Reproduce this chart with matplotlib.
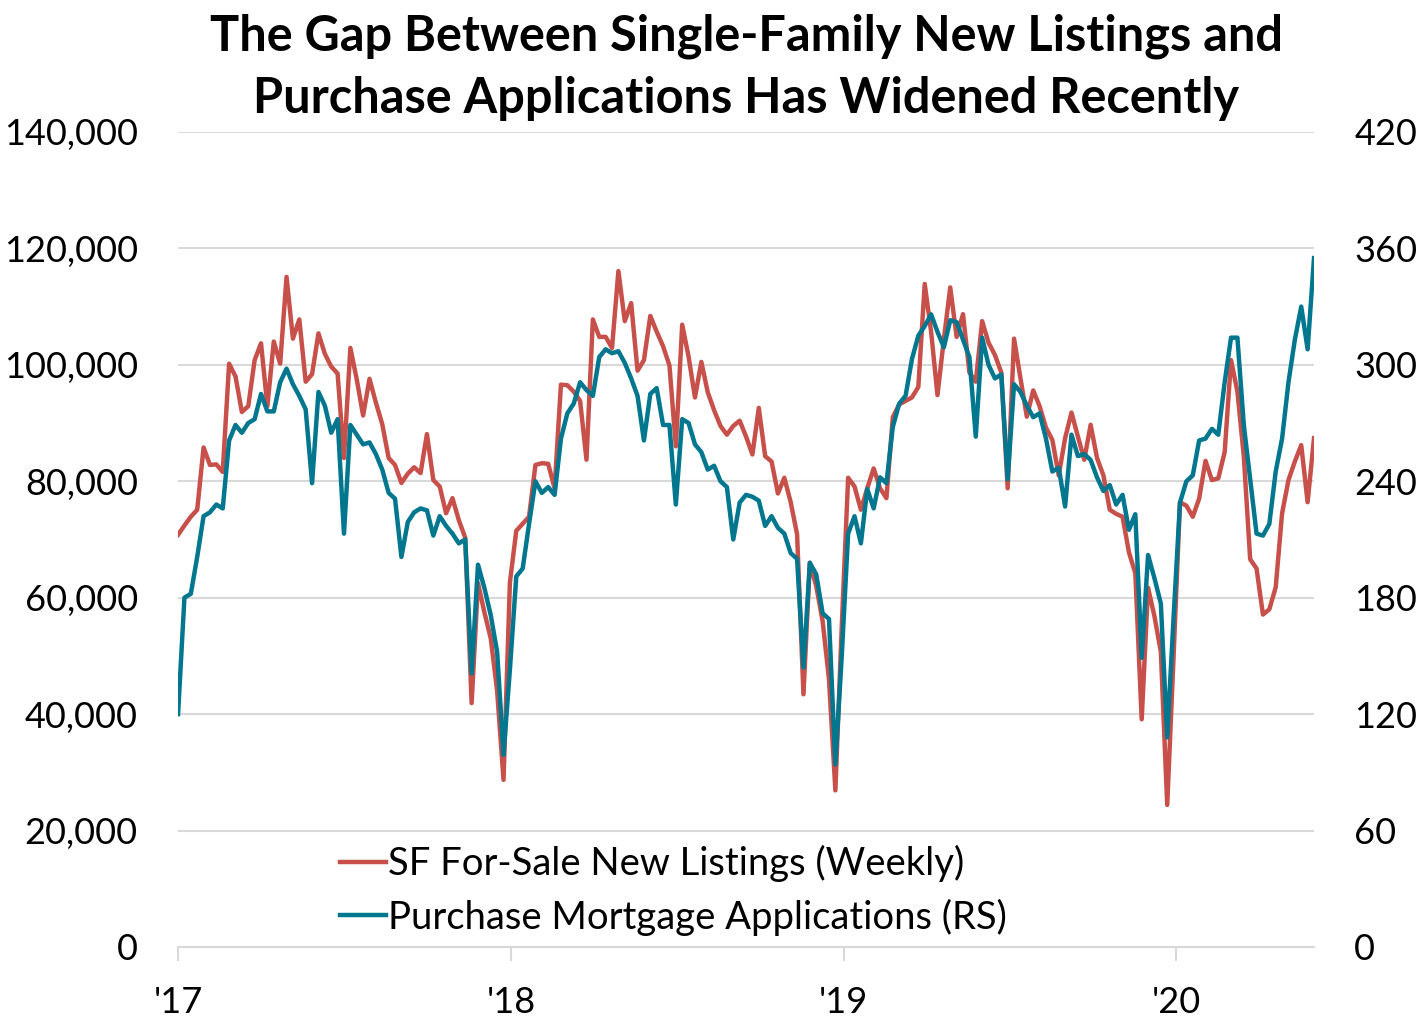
import matplotlib
matplotlib.use("Agg")
import matplotlib.pyplot as plt
import numpy as np
import pandas as pd

plt.rcParams["font.family"] = ["Lato", "DejaVu Sans"]

# weekly observations, first week starting 2017-01-01
start_date = "2017-01-01"
end_date = "2020-05-31"

# SF for-sale new listings (left axis), thousands
new_listings = [
    70.8, 72.4, 73.9, 75.1, 85.8, 82.8, 82.9, 81.6, 100.2, 98.0,
    91.9, 92.9, 100.8, 103.7, 92.9, 104.0, 100.2, 115.1, 104.5, 107.8,
    97.1, 98.4, 105.4, 101.9, 99.7, 98.5, 84.0, 102.9, 97.5, 91.3,
    97.6, 93.5, 89.8, 84.0, 82.8, 79.7, 81.3, 82.4, 81.4, 88.1,
    80.2, 79.1, 74.5, 77.1, 73.3, 70.3, 41.9, 62.5, 57.5, 53.0,
    44.0, 28.7, 62.6, 71.5, 72.7, 73.9, 82.8, 83.1, 83.0, 78.8,
    96.6, 96.5, 95.4, 93.8, 83.7, 107.8, 104.8, 104.8, 102.9, 116.1,
    107.5, 110.6, 99.0, 100.8, 108.4, 105.7, 103.2, 99.9, 86.0, 106.9,
    101.4, 94.4, 100.5, 95.3, 92.2, 89.5, 88.0, 89.5, 90.4, 87.7,
    84.6, 92.6, 84.3, 83.4, 77.9, 80.6, 76.4, 70.9, 43.4, 66.0,
    62.0, 56.0, 46.0, 26.9, 55.0, 80.6, 79.1, 75.1, 78.8, 82.2,
    78.8, 77.1, 91.0, 93.2, 93.8, 94.4, 96.2, 113.9, 105.7, 94.8,
    104.4, 113.3, 104.8, 108.7, 98.7, 97.1, 107.5, 103.8, 101.7, 98.7,
    78.8, 104.5, 97.7, 91.1, 95.6, 92.9, 89.2, 87.1, 81.0, 87.4,
    91.8, 87.7, 83.7, 89.7, 84.0, 81.0, 75.1, 74.4, 73.9, 67.8,
    64.2, 39.1, 61.7, 56.8, 50.7, 24.4, 50.0, 76.4, 75.8, 73.9,
    77.0, 83.5, 80.2, 80.5, 85.0, 100.8, 95.4, 84.3, 66.6, 65.0,
    57.1, 58.0, 61.8, 74.5, 80.2, 83.4, 86.2, 76.4, 87.4,
]

# purchase mortgage applications index (right axis)
purchase_apps = [
    120, 180, 182, 201, 222, 224, 228, 226, 261, 269,
    265, 270, 272, 285, 276, 276, 291, 298, 290, 284,
    277, 239, 286, 279, 265, 272, 213, 269, 264, 259,
    260, 254, 246, 234, 231, 201, 219, 224, 226, 225,
    212, 222, 217, 213, 208, 210, 141, 197, 185, 171,
    152, 99, 143, 191, 195, 218, 240, 234, 237, 233,
    262, 275, 280, 291, 287, 284, 304, 308, 306, 307,
    301, 293, 284, 261, 285, 288, 269, 269, 228, 272,
    270, 259, 255, 246, 248, 240, 237, 210, 229, 233,
    232, 230, 217, 222, 216, 213, 203, 200, 144, 198,
    192, 172, 169, 94, 150, 213, 222, 208, 236, 226,
    242, 239, 268, 280, 284, 303, 315, 320, 326, 317,
    309, 323, 322, 313, 304, 263, 314, 300, 293, 295,
    241, 290, 286, 279, 273, 275, 262, 245, 247, 227,
    264, 253, 254, 251, 242, 235, 238, 228, 233, 215,
    223, 149, 202, 190, 177, 108, 170, 229, 240, 243,
    261, 262, 267, 264, 291, 314, 314, 269, 241, 213,
    212, 218, 245, 262, 291, 313, 330, 308, 355,
]

year_ticks = ["2017-01-01", "2018-01-01", "2019-01-01", "2020-01-01"]
year_labels = ["'17", "'18", "'19", "'20"]

red = "#C8504A"
teal = "#00768F"
grid_color = "#D9D9D9"

weeks = pd.date_range(start_date, periods=len(new_listings), freq="7D")
listings = np.asarray(new_listings) * 1000

fig = plt.figure(figsize=(14.21, 10.31), dpi=100)
ax = fig.add_axes([0.1253, 0.0815, 0.7994, 0.7905])
ax2 = ax.twinx()

ax.plot(weeks, listings, color=red, lw=3.2, label="SF For-Sale New Listings (Weekly)")
ax2.plot(weeks, purchase_apps, color=teal, lw=3.2,
         label="Purchase Mortgage Applications (RS)")

ax.set_ylim(0, 140000)
ax2.set_ylim(0, 420)
ax.set_yticks(np.arange(0, 140001, 20000))
ax2.set_yticks(np.arange(0, 421, 60))
ax.yaxis.set_major_formatter(matplotlib.ticker.FuncFormatter(lambda v, p: f"{v:,.0f}"))

ax.set_xlim(pd.Timestamp(start_date), pd.Timestamp(end_date))
ax.set_xticks(pd.to_datetime(year_ticks))
ax.set_xticklabels(year_labels)

ax.grid(axis="y", color=grid_color, lw=1.5)
ax.set_axisbelow(True)

for a in (ax, ax2):
    for side in ("top", "left", "right", "bottom"):
        a.spines[side].set_visible(False)
    a.tick_params(axis="y", length=0, labelsize=26, pad=29)
ax.spines["bottom"].set_visible(True)
ax.spines["bottom"].set_color(grid_color)
ax.spines["bottom"].set_linewidth(1.5)
ax.tick_params(axis="x", length=10, width=1.5, color=grid_color,
               labelsize=26, pad=18)

handles = ax.get_lines() + ax2.get_lines()
ax2.legend(handles, [h.get_label() for h in handles],
           loc="lower left", bbox_to_anchor=(0.143, 0.014),
           frameon=False, fontsize=27.5, handlelength=1.2,
           handletextpad=0.05, labelspacing=0.42,
           borderpad=0, borderaxespad=0)

fig.text(0.525, 0.935,
         "The Gap Between Single-Family New Listings and\n"
         "Purchase Applications Has Widened Recently",
         ha="center", va="center", fontsize=35, fontweight="bold",
         linespacing=1.45)

fig.savefig("out.png", dpi=100)
